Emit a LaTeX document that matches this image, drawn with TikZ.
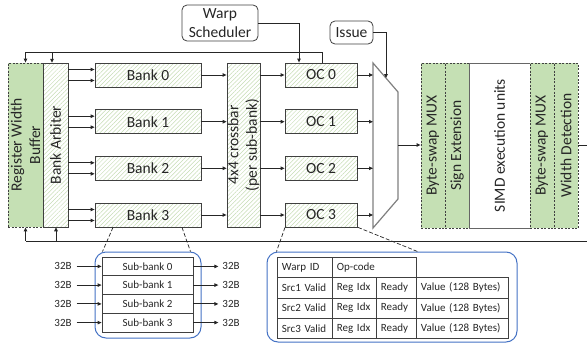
\documentclass[tikz,border=0pt]{standalone}
\usepackage{fontspec}
\setmainfont{Carlito}
\usetikzlibrary{patterns.meta,arrows.meta,calc}
\definecolor{txt}{HTML}{262626}
\definecolor{bord}{HTML}{404040}
\definecolor{gfill}{HTML}{C5E0B4}
\definecolor{hatch}{HTML}{C6DCB4}
\definecolor{blu}{HTML}{4472C4}
\definecolor{muxc}{HTML}{7F7F7F}
\begin{document}
\begin{tikzpicture}[x=1pt,y=-1pt, font=\fontsize{15.5}{18.5}\selectfont, text=txt,
 hbox/.style={draw=bord, line width=0.8pt, pattern={Lines[angle=45,distance=3pt,line width=0.5pt]}, pattern color=hatch, inner sep=0pt},
 gbox/.style={draw=bord, dash pattern=on 2pt off 1.5pt, line width=0.8pt, fill=gfill, inner sep=0pt},
 wbox/.style={draw=black!60, line width=0.9pt, fill=white, inner sep=0pt},
 rbox/.style={draw=bord, rounded corners=5pt, line width=0.8pt, fill=white, align=center, inner sep=0pt},
 arr/.style={-{Triangle[length=4pt,width=3.5pt]}, line width=0.9pt, draw=txt},
 ln/.style={line width=0.9pt, draw=txt},
 dsh/.style={dash pattern=on 4pt off 2pt, line width=0.7pt, draw=txt},
 sm/.style={font=\fontsize{11}{13}\selectfont},
 frame/.style={draw=blu, rounded corners=11pt, line width=1pt, inner sep=0pt},
 sbcell/.style={draw=bord, line width=0.8pt, inner sep=0pt, minimum width=91pt, minimum height=18.75pt, sm},
 cell/.style={draw=bord, line width=0.8pt, inner xsep=4.5pt, inner ysep=0pt, minimum height=20.25pt, align=left, anchor=north west, sm},
 rot/.style={rotate=90, align=center}
]
\useasboundingbox (0,0) rectangle (587,343);

% left column
\node[gbox, minimum width=35pt, minimum height=164pt] (rwb) at (25.5,145) {};
\node[rot] (rwbt) at (rwb) {Register Width\\Buffer};
\node[hbox, minimum width=25pt, minimum height=164pt] (ba) at (55.5,145) {};
\node[rot] (bat) at (ba) {Bank Arbiter};

% banks
\foreach \i/\y in {0/75,1/121.7,2/168.3,3/215}{
  \node[hbox, minimum width=106pt, minimum height=24pt] (bank\i) at (148,\y) {Bank \i};
}
% crossbar
\node[hbox, minimum width=33pt, minimum height=164pt] (xbar) at (243.5,145) {};
\node[rot] (xbart) at (xbar) {4x4 crossbar\\(per sub-bank)};
% OCs
\foreach \i/\y in {0/75,1/121.7,2/168.3,3/215}{
  \node[hbox, minimum width=72pt, minimum height=24pt] (oc\i) at (321,\y) {OC \i};
}
% mux
\coordinate (m1) at (373,63);
\coordinate (m2) at (398,92);
\coordinate (m3) at (398,199);
\coordinate (m4) at (373,228);
\draw[muxc, line width=1.2pt] (m1) -- (m2) -- (m3) -- (m4) -- cycle;

% schedulers
\node[rbox, minimum width=76pt, minimum height=36pt] (ws) at (220,23) {Warp\\Scheduler};
\node[rbox, minimum width=43pt, minimum height=23pt] (issue) at (351.5,32.5) {Issue};

% execution
\node[gbox, minimum width=24pt, minimum height=165pt] (bsm1) at (433,145.5) {};
\node[rot] at (bsm1) {Byte-swap MUX};
\node[gbox, minimum width=24pt, minimum height=165pt] (se) at (457,145.5) {};
\node[rot] at (se) {Sign Extension};
\node[wbox, minimum width=61pt, minimum height=165pt] (simd) at (499.5,145.5) {};
\node[rot] at (simd) {SIMD execution units};
\node[gbox, minimum width=24pt, minimum height=165pt] (bsm2) at (542,145.5) {};
\node[rot] at (bsm2) {Byte-swap MUX};
\node[gbox, minimum width=24pt, minimum height=165pt] (wd) at (566,145.5) {};
\node[rot] at (wd) {Width Detection};

% arrows arbiter -> banks, banks -> xbar, xbar -> oc, oc -> mux
\foreach \i in {0,1,2,3}{
  \draw[arr] ($(ba.east |- bank\i.west)+(0,-5.5)$) -- ($(bank\i.west)+(0,-5.5)$);
  \draw[arr] ($(ba.east |- bank\i.west)+(0,5.5)$) -- ($(bank\i.west)+(0,5.5)$);
  \draw[arr] (bank\i.east) -- (bank\i.east -| xbar.west);
  \draw[arr] (xbar.east |- oc\i.west) -- (oc\i.west);
  \draw[arr] (oc\i.east) -- (oc\i.east -| m1);
}
\coordinate (mo) at (398,145);
\draw[arr] (mo) -- (mo -| bsm1.west);

% scheduler arrows
\draw[arr] (ws.east) -| ([xshift=-22pt]oc0.north);
\coordinate (mi) at (386,78);
\draw[arr] (issue.east) -| (mi);

% top feedback
\coordinate (tl) at (25.5,52);
\draw[arr] ([xshift=1pt]oc0.north) |- (tl) -- (rwb.north);
\draw[arr] ([xshift=-3.5pt]ba.north |- tl) -- ([xshift=-3.5pt]ba.north);

% bottom feedback
\coordinate (br) at (592,241);
\draw[ln] (wd.east |- mo) -- (br |- mo) -- (br) -- (rwb.south |- br);
\draw[arr] (rwb.south |- br) -- (rwb.south);
\draw[arr] ([xshift=0.5pt]ba.south |- br) -- ([xshift=0.5pt]ba.south);

% sub-bank detail
\node[frame, minimum width=106pt, minimum height=86pt] (sbf) at (148,295) {};
\foreach \i/\y in {0/266.4,1/285.1,2/303.9,3/322.6}{
  \node[sbcell] (sb\i) at (147.5,\y) {Sub-bank \i};
  \node[sm] (li\i) at (63,\y) {32B};
  \node[sm] (lo\i) at (231,\y) {32B};
  \draw[arr] ([xshift=-25pt]sb\i.west) -- (sb\i.west);
  \draw[arr] (sb\i.east) -- ([xshift=25pt]sb\i.east);
}
\draw[dsh] ([xshift=-35pt]bank3.south) -- ([xshift=8pt]sbf.north west);
\draw[dsh] ([xshift=34pt]bank3.south) -- ([xshift=-11pt]sbf.north east);

% OC detail
\node[frame, minimum width=250pt, minimum height=90pt] (ocf) at (392,297) {};
\node[cell, text width=46pt] (w1) at (277,257) {Warp ID};
\node[cell, text width=75pt] (w2) at (332,257) {Op-code};
\foreach \r/\y in {1/277.25,2/297.5,3/317.75}{
  \node[cell, text width=46pt] (s\r a) at (277,\y) {Src\r{} Valid};
  \node[cell, text width=35pt] (s\r b) at (332,\y) {Reg Idx};
  \node[cell, text width=31pt] (s\r c) at (376,\y) {Ready};
  \node[cell, text width=83pt] (s\r d) at (416,\y) {Value (128 Bytes)};
}
\draw[dsh] ([xshift=-36pt]oc3.south) -- ([xshift=10pt]ocf.north west);
\draw[dsh] ([xshift=37pt]oc3.south) -- ([xshift=-100pt]ocf.north east);
\end{tikzpicture}
\end{document}
